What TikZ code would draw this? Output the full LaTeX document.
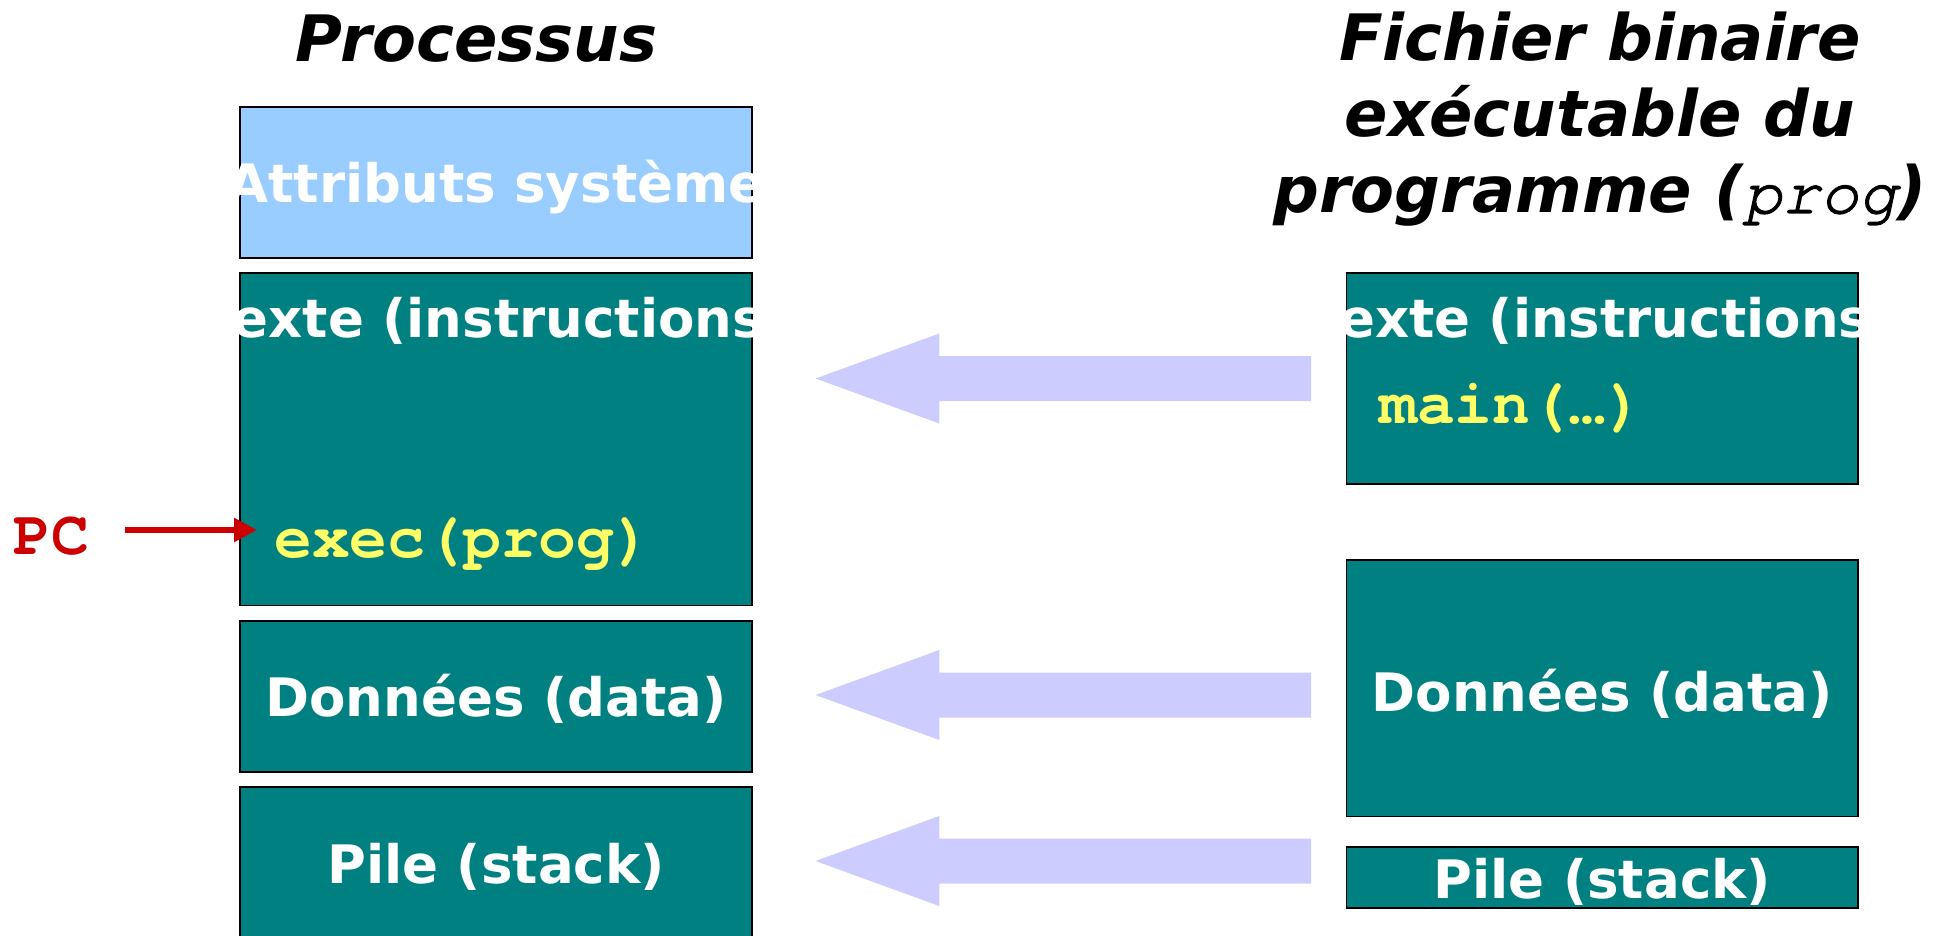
\documentclass[tikz,border=0pt]{standalone}
\usepackage{fontspec}
\setmainfont{DejaVu Sans}
\newfontfamily\codefont{texgyrecursor}[Extension=.otf,
  UprightFont=*-regular, BoldFont=*-bold,
  ItalicFont=*-italic, BoldItalicFont=*-bolditalic]
\newfontfamily\progfont{texgyrecursor-italic}[Extension=.otf, FakeBold=2]
\usetikzlibrary{arrows.meta}
\definecolor{segteal}{HTML}{008080}
\definecolor{segblue}{HTML}{99CCFF}
\definecolor{loadviolet}{HTML}{CCCCFF}
\definecolor{codeyellow}{HTML}{FFFF66}
\definecolor{pcred}{HTML}{CC0000}
\tikzset{
  seg/.style={draw=black, line width=1.5pt, fill=segteal, inner sep=0pt},
  segL/.style={seg, minimum width=512pt},
  segR/.style={seg, minimum width=511.5pt},
  segtext/.style={text=white, inner sep=0pt, anchor=base,
    font=\fontsize{53}{64}\selectfont\bfseries},
  code/.style={text=codeyellow, inner sep=0pt, anchor=base west,
    font=\codefont\fontsize{63}{70}\selectfont\bfseries},
  heading/.style={inner sep=0pt, anchor=base,
    font=\fontsize{64}{77}\selectfont\bfseries\itshape},
  loadarrow/.style={fill=loadviolet},
  pcarrow/.style={draw=pcred, line width=6pt,
    -{Triangle[length=23pt,width=23pt]}},
}
\begin{document}
\begin{tikzpicture}[x=1pt,y=-1pt]
\useasboundingbox (0,0) rectangle (1946,936);

% titles
\node[heading] (ttlproc) at (476.5,61.7) {Processus};
\node[heading] (ttlbin1) at (1600,61) {Fichier binaire};
\node[heading] (ttlbin2) at (1600,137) {exécutable du};
\node[heading] (ttlbin3) at (1600,213)
  {programme ({\progfont prog})};

% process image (left column)
\node[segL, fill=segblue, minimum height=151pt] (attr) at (496,182.5) {};
\node[segL, minimum height=332.6pt] (txtL) at (496,439.3) {};
\node[segL, minimum height=151pt] (datL) at (496,696.5) {};
\node[segL, minimum height=153pt] (stkL) at (496,863.5) {};

% executable file (right column)
\node[segR, minimum height=211pt] (txtR) at (1602.25,378.5) {};
\node[segR, minimum height=256.7pt] (datR) at (1602.25,688.35) {};
\node[segR, minimum height=61pt] (stkR) at (1602.25,877.5) {};

% segment labels, cut off at the segment borders
\begin{scope}
  \clip (attr.south west) rectangle (attr.north east);
  \node[segtext] (attrlbl) at (496,203) {Attributs système};
\end{scope}
\begin{scope}
  \clip (txtL.south west) rectangle (txtL.north east);
  \node[segtext] (txtLlbl) at (496,337) {Texte (instructions)};
\end{scope}
\begin{scope}
  \clip (txtR.south west) rectangle (txtR.north east);
  \node[segtext] (txtRlbl) at (1602.25,337) {Texte (instructions)};
\end{scope}
\node[segtext] (datLlbl) at (496,716) {Données (data)};
\node[segtext] (stkLlbl) at (496,883) {Pile (stack)};
\node[segtext] (datRlbl) at (1602.25,711) {Données (data)};
\node[segtext] (stkRlbl) at (1602.25,898) {Pile (stack)};

% code lines
\node[code] (exec) at (274,557) {exec(prog)};
\node[code] (main) at (1379,423) {main(…)};

% program counter
\node[code, text=pcred] (pc) at (13,554) {PC};
\coordinate (pcstart) at (125,530);
\coordinate (pctip) at (257,530);
\draw[pcarrow] (pcstart) -- (pctip);

% loading arrows from the file into the process image
\foreach \yy in {378.5,695,861} {
  \fill[loadarrow] (1311,\yy-22.5) -- (939.3,\yy-22.5) -- (939.3,\yy-45)
    -- (815.5,\yy) -- (939.3,\yy+45) -- (939.3,\yy+22.5)
    -- (1311,\yy+22.5) -- cycle;
}
\end{tikzpicture}
\end{document}
